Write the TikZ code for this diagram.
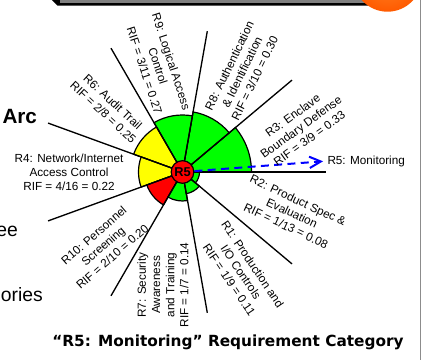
\documentclass[tikz,border=0pt]{standalone}
\usepackage{fontspec}
\setmainfont{Liberation Sans}
\newfontfamily\headfont{DejaVu Sans}
\usetikzlibrary{arrows.meta}

\tikzset{every picture/.style={line width=0.75pt}}
\tikzset{
  sector/.style={draw=black, line width=0.9pt},
  greensec/.style={sector, fill={rgb, 255:red, 0; green, 255; blue, 0 }},
  yellowsec/.style={sector, fill={rgb, 255:red, 255; green, 255; blue, 0 }},
  redsec/.style={sector, fill={rgb, 255:red, 255; green, 0; blue, 0 }},
  spoke/.style={draw=black, line width=1pt},
  catlabel/.style={font=\fontsize{8.8}{10.6}\selectfont, align=center, inner sep=0pt},
  slidetext/.style={font=\fontsize{14.5}{17}\selectfont, inner sep=0pt, anchor=base east},
}

\begin{document}
\begin{tikzpicture}[x=0.75pt,y=0.75pt,yscale=-1,xscale=1]
\useasboundingbox (0,0) rectangle (422,360);
\clip (0,0) rectangle (422,360);

%Shape: Rectangle (bar shadow)
\fill [black] (40,-12) -- (380,-12) -- (380,5.7) -- (57.5,5.7) -- cycle ;
%Shape: Rectangle (bar)
\fill [color={rgb, 255:red, 128; green, 128; blue, 128 }] (60,-12) rectangle (380,2.8) ;
%Shape: Circle
\shade [inner color={rgb, 255:red, 255; green, 135; blue, 40 }, outer color={rgb, 255:red, 255; green, 90; blue, 0 }] (387.5,-22.6) circle [radius=34.3] ;
%Straight Lines (slide edge)
\draw [color={rgb, 255:red, 140; green, 140; blue, 140 }] (420.5,0) -- (420.5,360) ;

\coordinate (O) at (182.5,172);

%Shape: Sectors
\begin{scope}[shift={(182.5,172)},yscale=-1]
\draw [greensec]  (0,0) -- (0:69) arc [start angle=0, end angle=40, radius=69] -- cycle ;
\draw [greensec]  (0,0) -- (40:61) arc [start angle=40, end angle=80, radius=61] -- cycle ;
\draw [greensec]  (0,0) -- (80:57) arc [start angle=80, end angle=120, radius=57] -- cycle ;
\draw [yellowsec] (0,0) -- (120:52) arc [start angle=120, end angle=160, radius=52] -- cycle ;
\draw [yellowsec] (0,0) -- (160:44) arc [start angle=160, end angle=200, radius=44] -- cycle ;
\draw [redsec]    (0,0) -- (200:38) arc [start angle=200, end angle=240, radius=38] -- cycle ;
\draw [greensec]  (0,0) -- (240:29) arc [start angle=240, end angle=280, radius=29] -- cycle ;
\draw [greensec]  (0,0) -- (280:22) arc [start angle=280, end angle=320, radius=22] -- cycle ;
\draw [greensec]  (0,0) -- (320:17) arc [start angle=320, end angle=360, radius=17] -- cycle ;
\end{scope}

%Straight Lines (spokes)
\coordinate (e0) at (326,172);
\coordinate (e40) at (292,80.1);
\coordinate (e80) at (207.3,31.2);
\coordinate (e120) at (111,48.2);
\coordinate (e160) at (48.1,123.1);
\coordinate (e200) at (48.1,220.9);
\coordinate (e240) at (111,295.8);
\coordinate (e280) at (207.3,312.8);
\coordinate (e320) at (292,263.9);
\draw [spoke] (O) -- (e0) ;
\draw [spoke] (O) -- (e40) ;
\draw [spoke] (O) -- (e80) ;
\draw [spoke] (O) -- (e120) ;
\draw [spoke] (O) -- (e160) ;
\draw [spoke] (O) -- (e200) ;
\draw [spoke] (O) -- (e240) ;
\draw [spoke] (O) -- (e280) ;
\draw [spoke] (O) -- (e320) ;

%Shape: Circle
\node [circle, draw=black, line width=0.9pt, fill={rgb, 255:red, 255; green, 0; blue, 0 }, minimum size=17pt, inner sep=0pt, font=\bfseries\fontsize{9.6}{10}\selectfont] (r5) at (O) {R5};

% Text Node
\node [catlabel, anchor=west] (mon) at (327,161) {R5: Monitoring};
%Straight Lines (dashed arrow)
\draw [color={rgb, 255:red, 0; green, 0; blue, 255 }, line width=1.5pt, dash pattern=on 6pt off 4pt, shorten >=3pt, -{Straight Barb[length=8.5pt,width=8.5pt]}] (r5) -- (mon.west) ;

% Text Node
\node [catlabel, rotate=36] (r3lbl) at (301,127) {R3: Enclave\\Boundary Defense\\RIF = 3/9 = 0.33};
% Text Node
\node [catlabel, rotate=64] (r8lbl) at (242,72) {R8: Authentication\\\& Identification\\RIF = 3/10 = 0.30};
% Text Node
\node [catlabel, rotate=-72] (r9lbl) at (158,66) {R9: Logical Access\\Control\\RIF = 3/11 = 0.27};
% Text Node
\node [catlabel, rotate=-43] (r6lbl) at (108,107) {R6: Audit Trail\\RIF = 2/8 = 0.25};
% Text Node
\node [catlabel] (r4lbl) at (69,172) {R4: Network/Internet\\Access Control\\RIF = 4/16 = 0.22};
% Text Node
\node [catlabel, rotate=41] (r10lbl) at (103,246) {R10: Personnel\\Screening\\RIF = 2/10 = 0.20};
% Text Node
\node [catlabel, rotate=90] (r7lbl) at (163,285) {R7: Security\\Awareness\\and Training\\RIF = 1/7 = 0.14};
% Text Node
\node [catlabel, rotate=-56] (r1lbl) at (241,272) {R1: Production and\\I/O Controls\\RIF = 1/9 = 0.11};
% Text Node
\node [catlabel, rotate=-25] (r2lbl) at (292,213) {R2: Product Spec \&\\Evaluation\\RIF = 1/13 = 0.08};

% Text Node
\node [font=\bfseries\fontsize{15.5}{18}\selectfont, anchor=base east, inner sep=0pt] (arc) at (37.5,123.5) {Arc};
% Text Node
\node [slidetext] (ee) at (18.3,236.7) {ee};
% Text Node
\node [slidetext] (ories) at (43.3,301.7) {ories};
% Text Node
\node [font=\headfont\bfseries\fontsize{11.5}{13}\selectfont] (title) at (228,342) {“R5: Monitoring” Requirement Category};

\end{tikzpicture}
\end{document}
